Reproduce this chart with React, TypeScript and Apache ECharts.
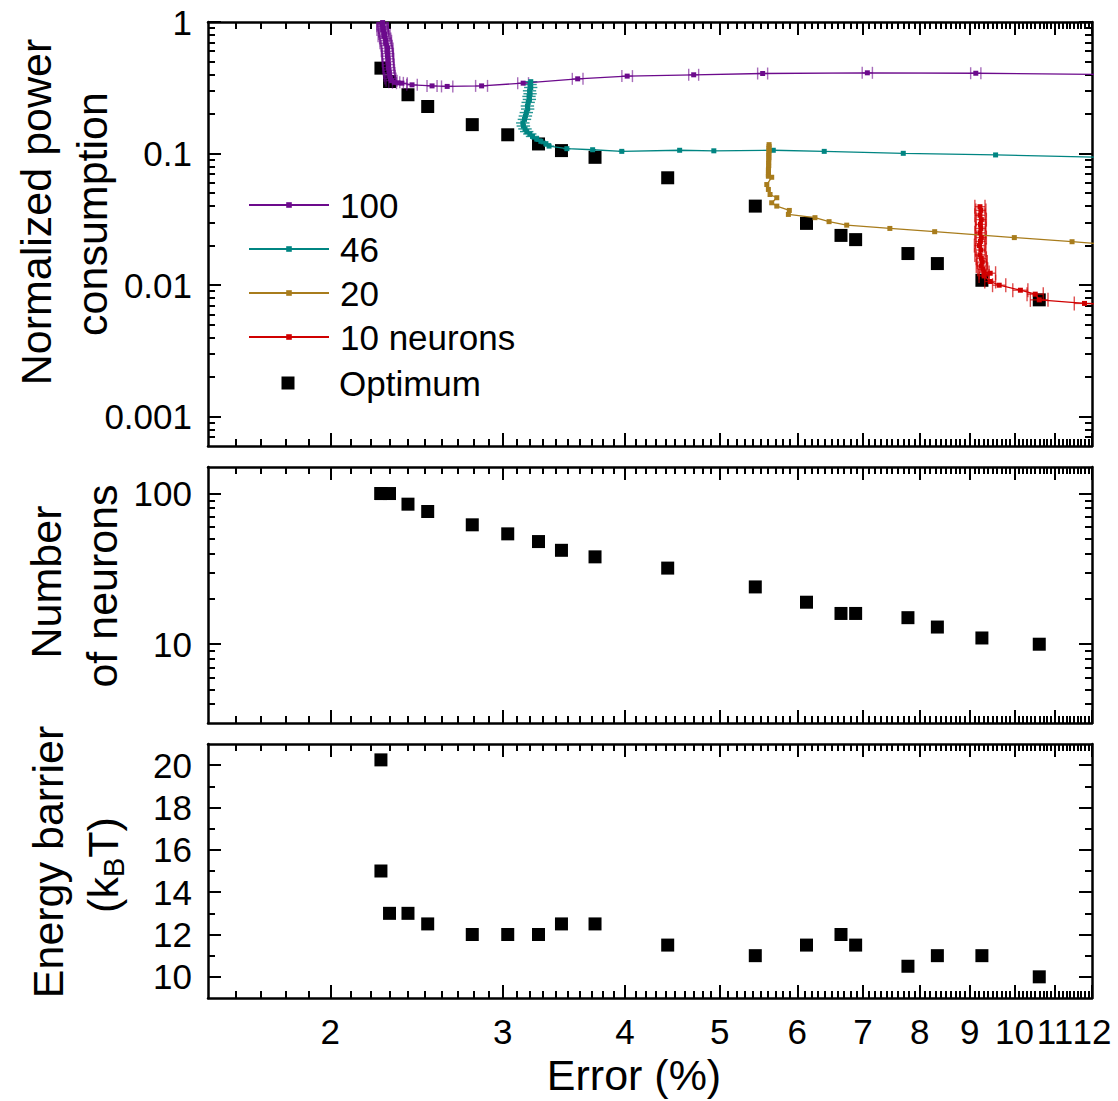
import React, { useEffect, useRef } from 'react';
import * as echarts from 'echarts';

const FONT = '"Liberation Sans", Arial, sans-serif';

// ---------- axis ranges / ticks ----------
const X_MIN = 1.5;
const X_MAX = 12;
const xMajorTicks = [2, 3, 4, 5, 6, 7, 8, 9, 10, 11, 12];
// labels drawn on two stacked axes so that the crowded "10 11 12" all stay visible
const xLabelsA = [2, 3, 4, 5, 6, 7, 8, 9, 10, 12];
const xLabelsB = [11];
const xMinorTicks: number[] = [];
for (let i = 1; i <= 11; i++) {
  for (let j = 1; j <= 9; j++) {
    const v = +(i + j / 10).toFixed(1);
    if (v > X_MIN && v < X_MAX) xMinorTicks.push(v);
  }
}

const POWER_MIN = 0.0006;
const POWER_MAX = 1;
const powerTicks = [0.001, 0.01, 0.1, 1];
const powerTickLabels = ['0.001', '0.01', '0.1', '1'];

const NEURON_MIN = 3;
const NEURON_MAX = 150;
const neuronTicks = [10, 100];
const neuronTickLabels = ['10', '100'];

const BARRIER_MIN = 9;
const BARRIER_MAX = 21;
const barrierTicks = [10, 12, 14, 16, 18, 20];
const barrierMinorTicks = [11, 13, 15, 17, 19];

function logMinor(min: number, max: number): number[] {
  const out: number[] = [];
  for (let e = -5; e <= 3; e++) {
    const d = Math.pow(10, e);
    for (let m = 2; m <= 9; m++) {
      const v = +(m * d).toPrecision(6);
      if (v > min && v < max) out.push(v);
    }
  }
  return out;
}
const powerMinorTicks = logMinor(POWER_MIN, POWER_MAX);
const neuronMinorTicks = logMinor(NEURON_MIN, NEURON_MAX);

// ---------- data ----------
// Optimum points (x = error %, shared by all three panels)
const optError = [2.253, 2.253, 2.299, 2.401, 2.515, 2.793, 3.036, 3.264, 3.445, 3.728, 4.423, 5.435, 6.131, 6.649, 6.882, 7.783, 8.341, 9.262, 10.6];
const optPower = [null, 0.446, 0.353, 0.28, 0.228, 0.166, 0.139, 0.1184, 0.1054, 0.0937, 0.0655, 0.0399, 0.0295, 0.0239, 0.0222, 0.0174, 0.0146, 0.0109, 0.00774];
const optNeurons = [100, 100, 100, 85, 76, 62, 54, 48, 42, 38, 32, 24, 19, 16, 16, 15, 13, 11, 10];
const optBarrier = [20.25, 15, 13, 13, 12.5, 12, 12, 12, 12.5, 12.5, 11.5, 11, 11.5, 12, 11.5, 10.5, 11, 11, 10];

// curves: [error %, normalized power, error-bar half width in %]
const curve100: [number, number, number][] = [
  [2.262, 0.99, 0.025], [2.258, 0.96, 0.025], [2.262, 0.93, 0.03], [2.266, 0.9, 0.025],
  [2.262, 0.87, 0.03], [2.268, 0.84, 0.025], [2.272, 0.81, 0.03], [2.268, 0.78, 0.03],
  [2.276, 0.75, 0.03], [2.28, 0.72, 0.03], [2.278, 0.69, 0.03], [2.284, 0.66, 0.03],
  [2.288, 0.63, 0.03], [2.285, 0.6, 0.03], [2.29, 0.575, 0.03], [2.288, 0.55, 0.03],
  [2.292, 0.525, 0.03], [2.29, 0.5, 0.03], [2.294, 0.475, 0.03], [2.292, 0.45, 0.03],
  [2.296, 0.43, 0.03], [2.298, 0.41, 0.03], [2.3, 0.39, 0.03], [2.304, 0.372, 0.03],
  [2.31, 0.358, 0.03], [2.325, 0.348, 0.03], [2.345, 0.345, 0.03], [2.367, 0.343, 0.03],
  [2.424, 0.333, 0.03], [2.541, 0.327, 0.03], [2.633, 0.324, 0.035], [2.855, 0.327, 0.04],
  [3.148, 0.343, 0.04], [3.579, 0.37, 0.045], [4.021, 0.388, 0.05], [4.702, 0.397, 0.055],
  [5.53, 0.406, 0.065], [7.074, 0.411, 0.085], [9.13, 0.408, 0.11], [13.0, 0.397, 0.15],
];
const curve46: [number, number, number][] = [
  [3.205, 0.352, 0.05], [3.2, 0.335, 0.05], [3.205, 0.318, 0.05], [3.196, 0.3, 0.05],
  [3.2, 0.285, 0.05], [3.192, 0.272, 0.05], [3.195, 0.258, 0.05], [3.186, 0.245, 0.05],
  [3.18, 0.23, 0.05], [3.182, 0.218, 0.05], [3.172, 0.205, 0.05], [3.165, 0.193, 0.05],
  [3.158, 0.182, 0.05], [3.146, 0.171, 0.05], [3.15, 0.162, 0.05], [3.162, 0.154, 0.05],
  [3.175, 0.147, 0.05], [3.198, 0.141, 0.05], [3.218, 0.135, 0.05], [3.25, 0.129, 0.04],
  [3.282, 0.124, 0.04], [3.321, 0.119, 0.04], [3.346, 0.114, 0.04], [3.489, 0.109, 0.03],
  [3.707, 0.107, 0.03], [3.97, 0.104, 0.03], [4.549, 0.106, 0], [4.93, 0.105, 0],
  [5.67, 0.106, 0], [6.392, 0.104, 0], [7.698, 0.1005, 0], [9.565, 0.0977, 0], [13.0, 0.093, 0],
];
const curve20: [number, number, number][] = [
  [5.614, 0.117, 0], [5.614, 0.113, 0], [5.612, 0.109, 0], [5.614, 0.105, 0], [5.612, 0.101, 0],
  [5.61, 0.097, 0], [5.612, 0.093, 0], [5.61, 0.089, 0], [5.608, 0.085, 0], [5.61, 0.081, 0],
  [5.607, 0.078, 0], [5.605, 0.075, 0], [5.606, 0.072, 0], [5.605, 0.069, 0], [5.605, 0.0673, 0],
  [5.649, 0.0661, 0], [5.584, 0.0582, 0], [5.605, 0.0534, 0], [5.627, 0.0489, 0], [5.717, 0.0462, 0],
  [5.649, 0.0423, 0], [5.717, 0.0399, 0], [5.888, 0.037, 0], [5.875, 0.0345, 0], [6.254, 0.0326, 0],
  [6.465, 0.0304, 0], [6.739, 0.0286, 0], [7.459, 0.027, 0], [8.288, 0.0255, 0], [9.996, 0.023, 0],
  [11.45, 0.0214, 0], [13.0, 0.0199, 0],
];
const curve10: [number, number, number][] = [
  [9.22, 0.0395, 0.11], [9.24, 0.037, 0.11], [9.22, 0.034, 0.11], [9.25, 0.0315, 0.11],
  [9.23, 0.029, 0.11], [9.24, 0.027, 0.11], [9.22, 0.025, 0.11], [9.25, 0.023, 0.11],
  [9.23, 0.0215, 0.11], [9.21, 0.02, 0.11], [9.24, 0.0185, 0.11], [9.22, 0.017, 0.11],
  [9.25, 0.016, 0.11], [9.27, 0.015, 0.11], [9.25, 0.014, 0.11], [9.28, 0.0132, 0.11],
  [9.31, 0.0125, 0.11], [9.445, 0.01233, 0.12], [9.31, 0.01176, 0.11], [9.445, 0.01067, 0.12],
  [9.647, 0.01, 0.15], [10.14, 0.00916, 0.18], [10.5, 0.00855, 0.2], [10.6, 0.00774, 0.22],
  [11.79, 0.00727, 0.28], [13.0, 0.007, 0.3],
];

const curves = [
  { name: '100', data: curve100, color: '#6C0A8C', cap: 12, op: 0.6 },
  { name: '46', data: curve46, color: '#008582', cap: 0, op: 0.85 },
  { name: '20', data: curve20, color: '#A87C1C', cap: 0, op: 0.6 },
  { name: '10 neurons', data: curve10, color: '#D00000', cap: 14, op: 0.7 },
];

// ---------- helpers ----------
const tickStyle = { color: '#000', width: 2 };
const lineStyle = { color: '#000', width: 2.5 };

function xLabel(show: boolean, values: number[]) {
  return {
    show, customValues: values, margin: 16, fontSize: 35,
    color: '#000', fontFamily: FONT, formatter: (v: number) => String(Math.round(v)),
    hideOverlap: false, showMaxLabel: true, showMinLabel: true,
  };
}

function makeXAxes(gridIndex: number, showLabels: boolean) {
  const base = {
    type: 'log', logBase: 10, gridIndex, min: X_MIN, max: X_MAX,
    splitLine: { show: false }, minorTick: { show: false },
  };
  return [
    { ...base, position: 'bottom', axisLine: { show: true, onZero: false, lineStyle },
      axisTick: { show: true, inside: true, length: 13, lineStyle: tickStyle, customValues: xMajorTicks },
      axisLabel: xLabel(showLabels, xLabelsA) },
    { ...base, position: 'bottom', axisLine: { show: false, onZero: false },
      axisTick: { show: true, inside: true, length: 7, lineStyle: tickStyle, customValues: xMinorTicks },
      axisLabel: xLabel(showLabels, xLabelsB) },
    { ...base, position: 'top', axisLine: { show: true, onZero: false, lineStyle },
      axisTick: { show: true, inside: true, length: 13, lineStyle: tickStyle, customValues: xMajorTicks },
      axisLabel: { show: false } },
    { ...base, position: 'top', axisLine: { show: false, onZero: false },
      axisTick: { show: true, inside: true, length: 7, lineStyle: tickStyle, customValues: xMinorTicks },
      axisLabel: { show: false } },
  ];
}

function makeYAxes(gridIndex: number, type: string, min: number, max: number,
  major: number[], minor: number[], fmt: (v: number) => string) {
  const base: any = { type, gridIndex, min, max, splitLine: { show: false }, minorTick: { show: false } };
  if (type === 'log') base.logBase = 10;
  return [
    { ...base, position: 'left', axisLine: { show: true, onZero: false, lineStyle },
      axisTick: { show: true, inside: true, length: 13, lineStyle: tickStyle, customValues: major },
      axisLabel: { show: true, customValues: major, margin: 16, fontSize: 35, color: '#000', fontFamily: FONT, formatter: fmt } },
    { ...base, position: 'left', axisLine: { show: false, onZero: false },
      axisTick: { show: true, inside: true, length: 7, lineStyle: tickStyle, customValues: minor },
      axisLabel: { show: false } },
    { ...base, position: 'right', axisLine: { show: true, onZero: false, lineStyle },
      axisTick: { show: true, inside: true, length: 13, lineStyle: tickStyle, customValues: major },
      axisLabel: { show: false } },
    { ...base, position: 'right', axisLine: { show: false, onZero: false },
      axisTick: { show: true, inside: true, length: 7, lineStyle: tickStyle, customValues: minor },
      axisLabel: { show: false } },
  ];
}

function errRender(color: string, cap: number, op: number) {
  return (params: any, api: any) => {
    const x = api.value(0);
    const y = api.value(1);
    const e = api.value(2);
    if (!e) return { type: 'group', children: [] };
    const p1 = api.coord([x - e, y]);
    const p2 = api.coord([x + e, y]);
    const st = { stroke: color, lineWidth: 1.4, opacity: op };
    const children: any[] = [
      { type: 'line', shape: { x1: p1[0], y1: p1[1], x2: p2[0], y2: p2[1] }, style: st },
    ];
    if (cap > 0) {
      children.push({ type: 'line', shape: { x1: p1[0], y1: p1[1] - cap / 2, x2: p1[0], y2: p1[1] + cap / 2 }, style: st });
      children.push({ type: 'line', shape: { x1: p2[0], y1: p2[1] - cap / 2, x2: p2[0], y2: p2[1] + cap / 2 }, style: st });
    }
    return { type: 'group', children };
  };
}

function labelFromList(ticks: number[], labels: string[]) {
  return (v: number) => {
    let best = 0;
    let bd = Infinity;
    ticks.forEach((t, i) => {
      const d = Math.abs(Math.log10(t) - Math.log10(v));
      if (d < bd) { bd = d; best = i; }
    });
    return labels[best];
  };
}

export default function App() {
  const ref = useRef<HTMLDivElement>(null);
  useEffect(() => {
    document.body.style.margin = '0';
    if (!ref.current) return;
    const chart = echarts.init(ref.current, null, { renderer: 'svg' });

    const grids = [
      { left: 208, right: 26, top: 22, height: 424, outerBoundsMode: 'none' },
      { left: 208, right: 26, top: 467, height: 256, outerBoundsMode: 'none' },
      { left: 208, right: 26, top: 744, height: 254, outerBoundsMode: 'none' },
    ];
    const xAxis = [...makeXAxes(0, false), ...makeXAxes(1, false), ...makeXAxes(2, true)];
    const yAxis = [
      ...makeYAxes(0, 'log', POWER_MIN, POWER_MAX, powerTicks, powerMinorTicks, labelFromList(powerTicks, powerTickLabels)),
      ...makeYAxes(1, 'log', NEURON_MIN, NEURON_MAX, neuronTicks, neuronMinorTicks, labelFromList(neuronTicks, neuronTickLabels)),
      ...makeYAxes(2, 'value', BARRIER_MIN, BARRIER_MAX, barrierTicks, barrierMinorTicks, (v: number) => String(Math.round(v))),
    ];

    const optSym = { type: 'scatter', name: 'Optimum', symbol: 'rect', symbolSize: 13,
      itemStyle: { color: '#000', opacity: 1 }, z: 2 };
    const series: any[] = [
      { ...optSym, xAxisIndex: 0, yAxisIndex: 0,
        data: optError.map((x, i) => [x, optPower[i]]).filter((d) => d[1] != null) },
      { ...optSym, xAxisIndex: 4, yAxisIndex: 4, data: optError.map((x, i) => [x, optNeurons[i]]) },
      { ...optSym, xAxisIndex: 8, yAxisIndex: 8, data: optError.map((x, i) => [x, optBarrier[i]]) },
    ];
    curves.forEach((c) => {
      series.push({
        type: 'custom', name: c.name + ' err', xAxisIndex: 0, yAxisIndex: 0, z: 3, clip: true,
        renderItem: errRender(c.color, c.cap, c.op), encode: { x: 0, y: 1 },
        data: c.data.map((d) => [d[0], d[1], d[2]]), silent: true,
      });
    });
    curves.forEach((c) => {
      series.push({
        type: 'line', name: c.name, xAxisIndex: 0, yAxisIndex: 0, z: 4, clip: true,
        symbol: 'rect', symbolSize: 5, showSymbol: true,
        lineStyle: { color: c.color, width: 1.3 }, itemStyle: { color: c.color },
        data: c.data.map((d) => [d[0], d[1]]),
      });
    });

    const legendText = { fontSize: 35, lineHeight: 44, color: '#000', fontFamily: FONT, padding: [0, 0, 0, 6] };
    const titleStyle = (text: string) => ({ text, fontSize: 43, fontFamily: FONT, fill: '#000', align: 'center', verticalAlign: 'middle' });

    chart.setOption({
      animation: false,
      backgroundColor: '#fff',
      grid: grids,
      xAxis,
      yAxis,
      legend: [
        { data: curves.map((c) => c.name), orient: 'vertical', left: 248, top: 183, itemWidth: 80, itemHeight: 7,
          itemGap: 0, padding: 0, textStyle: legendText, selectedMode: false },
        { data: ['Optimum'], orient: 'vertical', left: 281.5, top: 361, itemWidth: 13, itemHeight: 13,
          itemGap: 0, padding: 0, itemStyle: { color: '#000', opacity: 1 },
          textStyle: { ...legendText, padding: [0, 0, 0, 39.5] }, selectedMode: false },
      ],
      graphic: [
        { type: 'text', x: 36, y: 212, rotation: Math.PI / 2, style: titleStyle('Normalized power') },
        { type: 'text', x: 92, y: 214, rotation: Math.PI / 2, style: titleStyle('consumption') },
        { type: 'text', x: 46, y: 582, rotation: Math.PI / 2, style: titleStyle('Number') },
        { type: 'text', x: 102, y: 586, rotation: Math.PI / 2, style: titleStyle('of neurons') },
        { type: 'text', x: 48, y: 862, rotation: Math.PI / 2, style: titleStyle('Energy barrier') },
        { type: 'text', x: 103, y: 865, rotation: Math.PI / 2,
          style: { text: '{a|(k}{b|B}{a|T)}', fontFamily: FONT, fill: '#000', align: 'center', verticalAlign: 'middle',
            rich: { a: { fontSize: 43, lineHeight: 50, fontFamily: FONT }, b: { fontSize: 29, lineHeight: 30, verticalAlign: 'bottom', fontFamily: FONT } } } },
        { type: 'text', x: 634, y: 1075, style: titleStyle('Error (%)') },
      ],
      series,
    });
    return () => chart.dispose();
  }, []);
  return <div ref={ref} style={{ width: 1118, height: 1101 }} />;
}
